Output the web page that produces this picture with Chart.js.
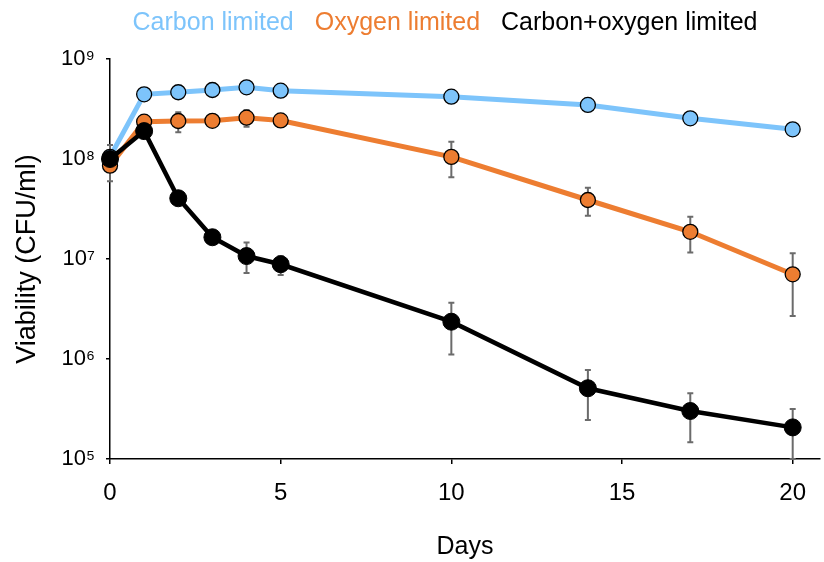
<!DOCTYPE html>
<html>
<head>
<meta charset="utf-8">
<script src="https://cdn.jsdelivr.net/npm/chart.js@4/dist/chart.umd.min.js"></script>
<style>
  html, body { margin: 0; padding: 0; background: #fff; overflow: hidden; }
  #wrap { width: 824px; height: 562px; }
  canvas { display: block; }
</style>
</head>
<body>
<div id="wrap"><canvas id="c" width="824" height="562"></canvas></div>
<script>
// Sampling days
const days = [0, 1, 2, 3, 4, 5, 10, 14, 17, 20];

// Viable counts (CFU/ml)
const carbonLimited = [1.05e8, 4.43e8, 4.65e8, 4.9e8, 5.21e8, 4.82e8, 4.2e8, 3.47e8, 2.55e8, 1.98e8];
const oxygenLimited = [8.57e7, 2.36e8, 2.4e8, 2.41e8, 2.59e8, 2.43e8, 1.05e8, 3.89e7, 1.87e7, 7.03e6];
const carbonOxygenLimited = [1.0e8, 1.9e8, 4.05e7, 1.65e7, 1.07e7, 8.86e6, 2.36e6, 5.1e5, 3.02e5, 2.07e5];

// Error bar ranges (null = no bar)
const oxygenLow  = [6.0e7, null, 1.85e8, null, 2.1e8, null, 6.56e7, 2.71e7, 1.16e7, 2.69e6];
const oxygenHigh = [1.38e8, null, 2.93e8, null, 3.09e8, null, 1.49e8, 5.16e7, 2.65e7, 1.14e7];
const bothLow    = [null, null, null, null, 7.24e6, 6.9e6, 1.11e6, 2.45e5, 1.47e5, 1e5];
const bothHigh   = [null, null, null, null, 1.46e7, 1.07e7, 3.66e6, 7.76e5, 4.54e5, 3.16e5];

const seriesNames = ['Carbon limited', 'Oxygen limited', 'Carbon+oxygen limited'];
const xTickValues = [0, 5, 10, 15, 20];
const yTickValues = [1e5, 1e6, 1e7, 1e8, 1e9];

const FONT = '"Liberation Sans", Arial, sans-serif';
const BLUE = '#7DC4FB';
const ORANGE = '#ED7D31';
const BLACK = '#000000';

const SUP = { '0': '\u2070', '1': '\u00B9', '2': '\u00B2', '3': '\u00B3', '4': '\u2074',
              '5': '\u2075', '6': '\u2076', '7': '\u2077', '8': '\u2078', '9': '\u2079' };
function powerLabel(v) {
  const e = Math.round(Math.log10(v));
  return '10' + String(e).split('').map(c => SUP[c]).join('');
}

function toPoints(ys) { return days.map((d, i) => ({ x: d, y: ys[i] })); }

// Vertical error bars with small caps, drawn beneath the markers
const errorBars = {
  id: 'errorBars',
  beforeDatasetsDraw(chart) {
    const ctx = chart.ctx;
    const xs = chart.scales.x, ys = chart.scales.y;
    const sets = [[oxygenLow, oxygenHigh], [bothLow, bothHigh]];
    ctx.save();
    ctx.strokeStyle = '#6b6b6b';
    ctx.lineWidth = 2;
    sets.forEach(([lo, hi]) => {
      days.forEach((d, i) => {
        if (lo[i] == null || hi[i] == null) return;
        const px = xs.getPixelForValue(d);
        const y1 = ys.getPixelForValue(lo[i]);
        const y2 = ys.getPixelForValue(hi[i]);
        ctx.beginPath();
        ctx.moveTo(px, y1); ctx.lineTo(px, y2);
        ctx.moveTo(px - 3, y1); ctx.lineTo(px + 3, y1);
        ctx.moveTo(px - 3, y2); ctx.lineTo(px + 3, y2);
        ctx.stroke();
      });
    });
    ctx.restore();
  }
};

// Coloured text legend across the top
const textLegend = {
  id: 'textLegend',
  afterDraw(chart) {
    const ctx = chart.ctx;
    ctx.save();
    ctx.font = '25px ' + FONT;
    ctx.textBaseline = 'middle';
    ctx.textAlign = 'left';
    const gap = 21;
    const labels = chart.data.datasets.map(ds => ds.label);
    const widths = labels.map(t => ctx.measureText(t).width);
    const total = widths.reduce((a, b) => a + b, 0) + gap * (labels.length - 1);
    let x = 445 - total / 2;
    chart.data.datasets.forEach((ds, i) => {
      ctx.fillStyle = ds.legendColor;
      ctx.fillText(ds.label, x, 23);
      x += widths[i] + gap;
    });
    ctx.restore();
  }
};

new Chart(document.getElementById('c'), {
  type: 'line',
  data: {
    datasets: [
      {
        label: seriesNames[0], data: toPoints(carbonLimited), legendColor: BLUE,
        borderColor: BLUE, borderWidth: 5, backgroundColor: BLUE,
        pointRadius: 7.5, pointBorderColor: '#000', pointBorderWidth: 1.3,
        pointBackgroundColor: BLUE, order: 2, clip: false
      },
      {
        label: seriesNames[1], data: toPoints(oxygenLimited), legendColor: ORANGE,
        borderColor: ORANGE, borderWidth: 5, backgroundColor: ORANGE,
        pointRadius: 7.5, pointBorderColor: '#000', pointBorderWidth: 1.3,
        pointBackgroundColor: ORANGE, order: 1, clip: false
      },
      {
        label: seriesNames[2], data: toPoints(carbonOxygenLimited), legendColor: BLACK,
        borderColor: BLACK, borderWidth: 4.5, backgroundColor: BLACK,
        pointRadius: 8.5, pointBorderColor: '#000', pointBorderWidth: 1,
        pointBackgroundColor: BLACK, order: 0, clip: false
      }
    ]
  },
  options: {
    responsive: false,
    animation: false,
    devicePixelRatio: 1,
    layout: { autoPadding: false, padding: { top: 59, left: 0, right: 4, bottom: 0 } },
    plugins: { legend: { display: false }, tooltip: { enabled: false } },
    elements: { line: { tension: 0 } },
    scales: {
      x: {
        type: 'linear', min: 0, max: 20.8,
        afterBuildTicks(scale) { scale.ticks = xTickValues.map(v => ({ value: v })); },
        afterFit(scale) { scale.height = 103; },
        grid: { drawOnChartArea: false, tickLength: 5, color: '#000', lineWidth: 1.5 },
        border: { color: '#000', width: 1.5 },
        ticks: { color: '#000', font: { family: FONT, size: 24 }, padding: 15, maxRotation: 0, autoSkip: false },
        title: { display: true, text: 'Days', color: '#000', font: { family: FONT, size: 25 }, padding: { top: 0, bottom: 0 } }
      },
      y: {
        type: 'logarithmic', min: 1e5, max: 1e9,
        afterBuildTicks(scale) { scale.ticks = yTickValues.map(v => ({ value: v })); },
        afterFit(scale) { scale.width = 110; },
        grid: { drawOnChartArea: false, tickLength: 4, color: '#000', lineWidth: 1.5 },
        border: { color: '#000', width: 1.5 },
        ticks: { color: '#000', font: { family: FONT, size: 22 }, padding: 11, callback: (v) => powerLabel(v) },
        title: { display: true, text: 'Viability (CFU/ml)', color: '#000', font: { family: FONT, size: 27 }, padding: { top: 11, bottom: 0 } }
      }
    }
  },
  plugins: [errorBars, textLegend]
});
</script>
</body>
</html>
